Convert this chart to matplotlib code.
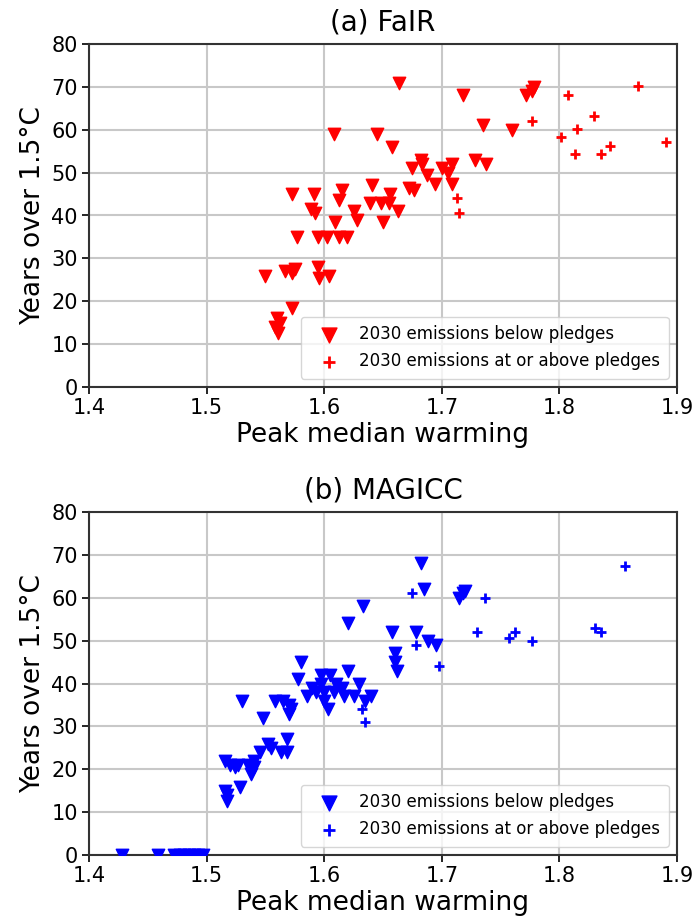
import matplotlib
matplotlib.use("Agg")
import matplotlib.pyplot as plt

# (a) FaIR
fair_below_x = [1.550, 1.558, 1.560, 1.561, 1.562, 1.567, 1.573, 1.573, 1.575, 1.573, 1.577,
                1.589, 1.591, 1.592, 1.595, 1.595, 1.596, 1.602, 1.604, 1.608, 1.609, 1.613,
                1.613, 1.615, 1.619, 1.625, 1.628, 1.639, 1.641, 1.645, 1.648, 1.650, 1.655,
                1.656, 1.658, 1.663, 1.664, 1.672, 1.676, 1.675, 1.682, 1.683, 1.687, 1.694,
                1.700, 1.705, 1.709, 1.709, 1.718, 1.728, 1.735, 1.738, 1.760, 1.772, 1.777, 1.778]
fair_below_y = [26, 14, 16, 12.5, 15, 27, 45, 26.5, 27.5, 18.5, 35,
                41.5, 45, 40.5, 35, 28, 25.5, 35, 26, 59, 38.5, 43.5,
                35, 46, 35, 41, 39, 43, 47, 59, 43, 38.5, 43,
                45, 56, 41, 71, 46.5, 46, 51, 53, 52, 49.5, 47.3,
                51, 50, 52, 47.3, 68, 53, 61, 52, 60, 68, 69, 70]
fair_above_x = [1.713, 1.715, 1.777, 1.801, 1.807, 1.813, 1.815, 1.829, 1.835, 1.843, 1.867, 1.891]
fair_above_y = [44, 40.6, 62, 58.3, 68.2, 54.3, 60.1, 63.2, 54.3, 56.2, 70.2, 57.1]

# (b) MAGICC
mag_below_x = [1.428, 1.459, 1.472, 1.477, 1.481, 1.485, 1.489, 1.493, 1.497,
               1.516, 1.517, 1.516, 1.517, 1.520, 1.524, 1.530, 1.527, 1.528, 1.535, 1.538,
               1.540, 1.540, 1.548, 1.545, 1.552, 1.558, 1.555, 1.565, 1.563, 1.568, 1.570,
               1.570, 1.568, 1.572, 1.578, 1.580, 1.585, 1.590, 1.593, 1.597, 1.597, 1.600,
               1.600, 1.603, 1.605, 1.608, 1.610, 1.615, 1.617, 1.620, 1.620, 1.625, 1.630,
               1.633, 1.635, 1.640, 1.658, 1.660, 1.660, 1.662, 1.678, 1.682, 1.685, 1.688,
               1.695, 1.715, 1.718, 1.720]
mag_below_y = [0, 0, 0, 0, 0, 0, 0, 0, 0,
               22, 14, 15, 12.5, 21, 20.5, 36, 21, 15.8, 21, 19,
               22, 20.5, 32, 24, 26, 36, 25, 36, 24, 27, 35,
               33, 24, 34, 41, 45, 37, 39, 38, 42, 40, 38,
               36, 34, 42, 38, 40, 39, 37, 43, 54, 37, 40,
               58, 36, 37, 52, 47, 45, 43, 52, 68, 62, 50,
               49, 60, 61, 61.5]
mag_above_x = [1.612, 1.632, 1.635, 1.675, 1.678, 1.698, 1.730, 1.737, 1.757, 1.762, 1.777, 1.830, 1.835, 1.856]
mag_above_y = [40, 34, 31, 61, 49, 44, 52, 60, 50.5, 52, 50, 53, 52, 67.5]

titles = ["(a) FaIR", "(b) MAGICC"]
label_below = "2030 emissions below pledges"
label_above = "2030 emissions at or above pledges"
xticks = [1.4, 1.5, 1.6, 1.7, 1.8, 1.9]
yticks = [0, 10, 20, 30, 40, 50, 60, 70, 80]

fig = plt.figure(figsize=(6.94, 9.24), dpi=100)
L, R = 89 / 694, 677 / 694
ax1 = fig.add_axes([L, 1 - 387 / 924, R - L, (387 - 44) / 924])
ax2 = fig.add_axes([L, 1 - 855 / 924, R - L, (855 - 512) / 924])

data = [
    (ax1, fair_below_x, fair_below_y, fair_above_x, fair_above_y, "red"),
    (ax2, mag_below_x, mag_below_y, mag_above_x, mag_above_y, "blue"),
]
for (ax, bx, by, ax_, ay, c), t in zip(data, titles):
    ax.scatter(bx, by, marker="v", s=80, color=c, label=label_below, zorder=3)
    ax.scatter(ax_, ay, marker="+", s=60, color=c, linewidths=2, label=label_above, zorder=3)
    ax.set_xlim(1.4, 1.9)
    ax.set_ylim(0, 80)
    ax.set_xticks(xticks)
    ax.set_yticks(yticks)
    ax.set_xticklabels([f"{v:.1f}" for v in xticks])
    ax.tick_params(labelsize=15, length=5, width=1.2, pad=3)
    ax.grid(True, color="#c8c8c8", linewidth=1.5)
    ax.set_axisbelow(True)
    for sp in ax.spines.values():
        sp.set_linewidth(1.5)
        sp.set_color("#333333")
    ax.set_title(t, fontsize=20, pad=10)
    ax.set_xlabel("Peak median warming", fontsize=19, labelpad=3)
    ax.set_ylabel("Years over 1.5°C", fontsize=19, labelpad=4)
    ax.legend(loc="lower right", fontsize=12, framealpha=0.8, borderpad=0.5,
              handletextpad=0.6, labelspacing=0.55, markerscale=1.2, handlelength=2.4,
              borderaxespad=0.5)

fig.savefig("out.png", dpi=100)
